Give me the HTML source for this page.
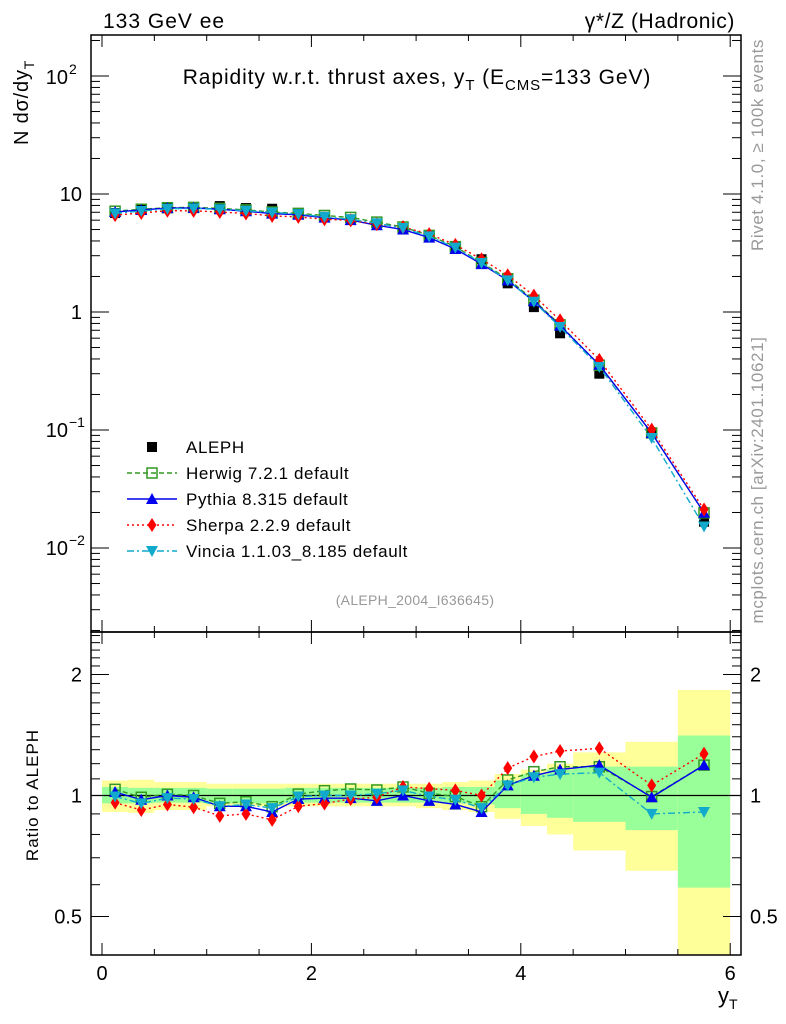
<!DOCTYPE html>
<html><head><meta charset="utf-8"><style>
body{margin:0;background:#fff;font-family:"Liberation Sans",sans-serif}
svg{display:block}
</style></head><body>
<svg id="c" width="786" height="1024" xmlns="http://www.w3.org/2000/svg" font-family="Liberation Sans, DejaVu Sans, sans-serif"></svg>
<script>
const binLo=[0,0.25,0.5,0.75,1,1.25,1.5,1.75,2,2.25,2.5,2.75,3,3.25,3.5,3.75,4,4.25,4.5,5,5.5];
const binHi=[0.25,0.5,0.75,1,1.25,1.5,1.75,2,2.25,2.5,2.75,3,3.25,3.5,3.75,4,4.25,4.5,5,5.5,6];
const aleph=[6.9,7.5,7.6,7.7,7.9,7.6,7.5,6.8,6.4,6.1,5.6,5.0,4.4,3.6,2.8,1.75,1.1,0.66,0.3,0.095,0.0167];
const herwigR=[1.036,0.99,1.007,1.0,0.956,0.965,0.938,1.008,1.028,1.038,1.032,1.05,1.013,0.994,0.938,1.093,1.146,1.179,1.179,0.994,1.19];
const pythiaR=[1.02,0.976,1.0,0.99,0.94,0.94,0.91,0.98,0.985,0.985,0.97,1.0,0.97,0.95,0.91,1.06,1.12,1.16,1.19,0.99,1.19];
const sherpaR=[0.96,0.92,0.95,0.935,0.89,0.90,0.87,0.94,0.955,0.98,0.99,1.05,1.04,1.03,1.0,1.17,1.25,1.29,1.31,1.06,1.27];
const vinciaR=[0.994,0.956,0.985,0.98,0.94,0.95,0.93,0.994,1.0,1.0,1.01,1.03,0.994,0.976,0.93,1.06,1.11,1.13,1.14,0.90,0.91];
const yelHi=[1.09,1.095,1.08,1.08,1.07,1.07,1.07,1.07,1.07,1.07,1.07,1.07,1.07,1.08,1.09,1.13,1.16,1.2,1.28,1.36,1.83];
const yelLo=[0.91,0.905,0.92,0.92,0.94,0.94,0.94,0.94,0.94,0.94,0.94,0.94,0.93,0.92,0.91,0.875,0.84,0.8,0.73,0.65,0.3];
const grnHi=[1.05,1.045,1.045,1.045,1.04,1.04,1.04,1.045,1.045,1.045,1.045,1.045,1.045,1.05,1.05,1.09,1.13,1.16,1.18,1.18,1.41];
const grnLo=[0.956,0.956,0.96,0.96,0.956,0.956,0.956,0.96,0.96,0.96,0.96,0.96,0.96,0.956,0.95,0.93,0.9,0.88,0.86,0.82,0.59];

const S=document.getElementById('c'),NS='http://www.w3.org/2000/svg';
function el(t,a,p){const e=document.createElementNS(NS,t);for(const k in a)e.setAttribute(k,a[k]);(p||S).appendChild(e);return e;}
const L=91,R=741,T=35,MB=632,B=955;
const X=v=>102+v*104.7;
const Y=v=>312-Math.log10(v)*118;
const YR=v=>795.5-Math.log10(v)*402;
const mid=binLo.map((l,i)=>(l+binHi[i])/2);

const gBand=el('g',{});


binLo.forEach((l,i)=>{
  const y1=Math.max(YR(yelHi[i]),MB),y2=Math.min(YR(yelLo[i]),B);
  const r=el('rect',{x:X(l),y:y1,width:X(binHi[i])-X(l),height:y2-y1,fill:'#ffff99'},gBand);
  
  
  const g1=YR(grnHi[i]),g2=YR(grnLo[i]);
  const r2=el('rect',{x:X(l),y:g1,width:X(binHi[i])-X(l),height:g2-g1,fill:'#99ff99'},gBand);
  
  
});
el('line',{x1:L,x2:R,y1:YR(1),y2:YR(1),stroke:'#000','stroke-width':1.3});

el('rect',{x:L,y:T,width:R-L,height:MB-T,fill:'none',stroke:'#000','stroke-width':1.5});
el('rect',{x:L,y:MB,width:R-L,height:B-MB,fill:'none',stroke:'#000','stroke-width':1.5});

for(let v=0;v<=6;v+=0.5){const maj=Math.abs(v%2)<1e-6,h=maj?12:6;
  el('line',{x1:X(v),x2:X(v),y1:T,y2:T+h,stroke:'#000'});
  el('line',{x1:X(v),x2:X(v),y1:MB,y2:MB-h,stroke:'#000'});
  el('line',{x1:X(v),x2:X(v),y1:MB,y2:MB+h,stroke:'#000'});
  el('line',{x1:X(v),x2:X(v),y1:B,y2:B-h,stroke:'#000'});
}
[0,2,4,6].forEach(v=>{const t=el('text',{x:X(v),y:980,'font-size':20,'text-anchor':'middle'});t.textContent=v;
 });
for(let d=-3;d<=2;d++)for(let m=1;m<10;m++){const v=m*Math.pow(10,d),y=Y(v);if(y<T||y>MB)continue;const h=m==1?18:9;
  el('line',{x1:L,x2:L+h,y1:y,y2:y,stroke:'#000'});el('line',{x1:R,x2:R-h,y1:y,y2:y,stroke:'#000'});}
const yl=[['10',194,''],['1',312,''],['10',77,'2'],['10',430,'−1'],['10',548,'−2']];
yl.forEach(([a,y,e])=>{const t=el('text',{x:e?68:82,y:y+7,'font-size':20,'text-anchor':'end'});t.textContent=a;
 
 if(e){const s=el('text',{x:69,y:y-3,'font-size':14});s.textContent=e;}});
for(let v=0.4;v<=2.55;v+=0.1){const y=YR(v);if(y<MB||y>B)continue;const maj=[0.5,1,2].some(q=>Math.abs(q-v)<1e-6),h=maj?18:9;
  el('line',{x1:L,x2:L+h,y1:y,y2:y,stroke:'#000'});el('line',{x1:R,x2:R-h,y1:y,y2:y,stroke:'#000'});}
[['2',2],['1',1],['0.5',0.5]].forEach(([s,v])=>{
 const t=el('text',{x:82,y:YR(v)+7,'font-size':20,'text-anchor':'end'});t.textContent=s;
 
 const t2=el('text',{x:750,y:YR(v)+7,'font-size':20});t2.textContent=s;});

function marker(type,x,y,col,g){
  let e;
  if(type=='sq')e=el('rect',{x:x-5,y:y-5,width:10,height:10,fill:'#000'},g);
  else if(type=='osq')e=el('rect',{x:x-5,y:y-5,width:10,height:10,fill:'none',stroke:col,'stroke-width':1.5},g);
  else if(type=='tu')e=el('polygon',{points:`${x},${y-6} ${x-6},${y+5} ${x+6},${y+5}`,fill:col},g);
  else if(type=='td')e=el('polygon',{points:`${x},${y+6} ${x-6},${y-5} ${x+6},${y-5}`,fill:col},g);
  else e=el('polygon',{points:`${x},${y-7} ${x-4.5},${y} ${x},${y+7} ${x+4.5},${y}`,fill:col},g);
  return e;
}
const series=[
 ['herwig',herwigR,'#339922','osq','5,3'],
 ['pythia',pythiaR,'#0000ee','tu',''],
 ['sherpa',sherpaR,'#ff0000','dia','2,3'],
 ['vincia',vinciaR,'#11aacc','td','7,3,2,3']];
const gd=el('g',{});
aleph.forEach((v,i)=>{const m=marker('sq',X(mid[i]),Y(v),'#000',gd);
 });
series.forEach(([n,r,c,t,da])=>{
  const g=el('g',{});
  const ptsM=mid.map((x,i)=>X(x)+','+Y(r[i]*aleph[i])).join(' ');
  el('polyline',{points:ptsM,fill:'none',stroke:c,'stroke-width':1.4,'stroke-dasharray':da},g);
  const ptsR=mid.map((x,i)=>X(x)+','+YR(r[i])).join(' ');
  el('polyline',{points:ptsR,fill:'none',stroke:c,'stroke-width':1.4,'stroke-dasharray':da},g);
  mid.forEach((x,i)=>{
    const m1=marker(t,X(x),Y(r[i]*aleph[i]),c,g);
    
    const m2=marker(t,X(x),YR(r[i]),c,g);
    
  });
});

const lg=el('g',{});
const labs=['ALEPH','Herwig 7.2.1 default','Pythia 8.315 default','Sherpa 2.2.9 default','Vincia 1.1.03_8.185 default'];
labs.forEach((s,i)=>{const y=447+26*i;
  if(i==0)marker('sq',152,y,'#000',lg);else{const [n,r,c,t,da]=series[i-1];
   el('line',{x1:127,x2:177,y1:y,y2:y,stroke:c,'stroke-width':1.4,'stroke-dasharray':da},lg);marker(t,152,y,c,lg);}
  const tx=el('text',{x:186,y:y+6,'font-size':17,'letter-spacing':'0.6'},lg);tx.textContent=s;
  });

function txt(s,a,name){const t=el('text',a);t.innerHTML=s;return t;}
txt('133 GeV ee',{x:103,y:28,'font-size':21,'letter-spacing':'1'},'energy-label');
txt('γ*/Z (Hadronic)',{x:735,y:28,'font-size':21,'letter-spacing':'0.6','text-anchor':'end'},'process-label');
txt('Rapidity w.r.t. thrust axes, y<tspan font-size="15" dy="6">T</tspan><tspan dy="-6"> (E</tspan><tspan font-size="15" dy="6">CMS</tspan><tspan dy="-6">=133 GeV)</tspan>',{x:417,y:84,'font-size':21,'letter-spacing':'0.9','text-anchor':'middle'},'plot-title');
txt('(ALEPH_2004_I636645)',{x:415,y:605,'font-size':14,'letter-spacing':'0.3','text-anchor':'middle',fill:'#999'},'analysis-id');
txt('N  dσ/dy<tspan font-size="14" dy="6">T</tspan>',{x:0,y:0,'font-size':20,'letter-spacing':'0.8',transform:'translate(28,145) rotate(-90)'},'y-axis-title');
txt('Ratio to ALEPH',{x:0,y:0,'font-size':17,'letter-spacing':'1','text-anchor':'middle',transform:'translate(38,795) rotate(-90)'},'ratio-axis-title');
txt('y<tspan font-size="14" dy="6">T</tspan>',{x:718,y:1003,'font-size':22},'x-axis-title');
txt('Rivet 4.1.0, ≥ 100k events',{x:0,y:0,'font-size':17,'letter-spacing':'0.6','text-anchor':'middle',fill:'#999',transform:'translate(763,145) rotate(-90)'},'rivet-label');
txt('mcplots.cern.ch [arXiv:2401.10621]',{x:0,y:0,'font-size':17,'letter-spacing':'0.6','text-anchor':'middle',fill:'#999',transform:'translate(763,480) rotate(-90)'},'mcplots-label');
</script>
</body></html>
